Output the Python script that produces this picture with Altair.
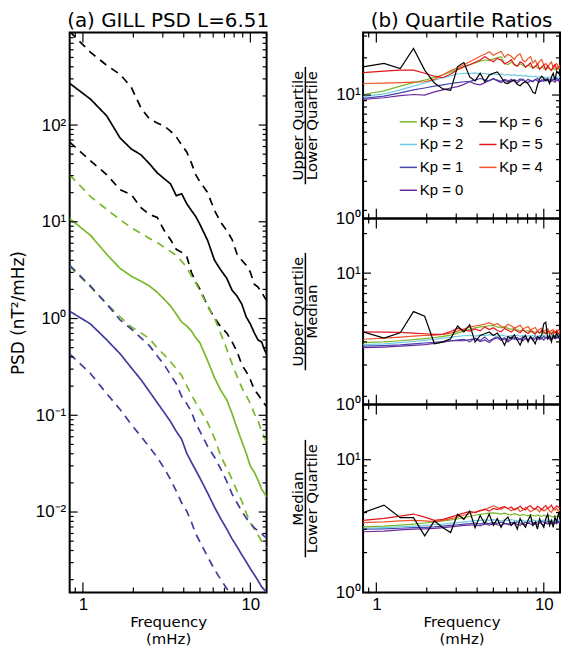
import altair as alt
import pandas as pd

# ---------------- data ----------------
PSD_FREQ = [0.833, 1.111, 1.389, 1.667, 1.944, 2.222, 2.500, 2.778, 3.056, 3.333,
            3.611, 3.889, 4.167, 4.444, 4.722, 5.000, 5.556, 6.111, 6.667, 7.222,
            7.778, 8.333, 8.889, 9.444, 10.000, 10.556, 11.111, 11.667, 12.222, 12.500]

KP6_UPPER = [927, 564, 414, 334, 246, 150, 115, 105, 97.7, 86.7, 75.3, 62.2, 52.7, 40.6, 30.6,
             25.9, 20.0, 13.1, 9.82, 8.13, 6.56, 4.60, 4.00, 3.55, 3.01, 2.26, 2.11, 1.87, 1.63, 1.55]
KP6_MEDIAN = [270, 185, 124, 73.5, 56.6, 49.2, 39.7, 32.1, 27.9, 24.7, 18.6, 19.5, 15.4, 13.1, 11.3,
              9.38, 6.41, 4.00, 3.16, 2.61, 1.96, 1.70, 1.41, 1.04, 0.877, 0.710, 0.601, 0.573, 0.463, 0.432]
KP6_LOWER = [66.8, 42.7, 30.6, 21.5, 19.1, 14.0, 11.9, 11.1, 8.13, 6.56, 5.19, 4.83, 4.40, 3.01, 2.37,
             2.01, 1.35, 1.01, 0.818, 0.710, 0.573, 0.453, 0.333, 0.282, 0.233, 0.184, 0.164, 0.145, 0.129, 0.123]
KP3_UPPER = [30.6, 18.2, 13.4, 10.5, 8.73, 7.57, 6.73, 6.12, 5.43, 4.94, 4.50, 3.90, 3.39, 2.74, 2.32,
             1.92, 1.35, 1.01, 0.693, 0.485, 0.340, 0.251, 0.193, 0.160, 0.132, 0.104, 0.0883, 0.0681, 0.0577, 0.0525]
KP3_MEDIAN = [10.8, 7.23, 4.60, 3.30, 2.74, 2.43, 2.16, 1.87, 1.58, 1.35, 1.11, 0.920, 0.838, 0.743, 0.631,
              0.560, 0.366, 0.244, 0.180, 0.145, 0.104, 0.0731, 0.0537, 0.0405, 0.0297, 0.0258, 0.0213, 0.0173, 0.0153, 0.0143]
KP3_LOWER = [3.47, 2.11, 1.41, 1.04, 0.818, 0.710, 0.617, 0.498, 0.422, 0.357, 0.303, 0.256, 0.202, 0.163, 0.135,
             0.115, 0.0841, 0.0577, 0.0377, 0.0283, 0.0218, 0.0164, 0.0130, 0.00977, 0.00771, 0.00668, 0.00579, 0.00501, 0.00447, 0.00427]
KP1_UPPER = [3.55, 2.16, 1.41, 0.966, 0.780, 0.631, 0.521, 0.411, 0.333, 0.262, 0.212, 0.156, 0.132, 0.109, 0.0822,
             0.0681, 0.0478, 0.0368, 0.0277, 0.0208, 0.0153, 0.0124, 0.0102, 0.00867, 0.00771, 0.00684, 0.00638, 0.00594, 0.00553, 0.00541]
KP1_MEDIAN = [1.19, 0.877, 0.601, 0.432, 0.310, 0.233, 0.175, 0.135, 0.107, 0.0863, 0.0681, 0.0564, 0.0405, 0.0327, 0.0270,
              0.0224, 0.0157, 0.0112, 0.00847, 0.00668, 0.00528, 0.00437, 0.00361, 0.00306, 0.00259, 0.00225, 0.00195, 0.00169, 0.00154, 0.00147]
KP1_LOWER = [0.432, 0.269, 0.167, 0.115, 0.0804, 0.0605, 0.0466, 0.0368, 0.0283, 0.0218, 0.0164, 0.0124, 0.0102, 0.00789, 0.00594,
             0.00492, 0.00344, 0.00254, 0.00200, 0.00162, 0.00132, 0.00110, 0.00089, 0.00076, 0.00065, 0.00055, 0.00048, 0.00042, 0.00037, 0.00035]

RATIO_FREQ = [0.833, 1.111, 1.389, 1.667, 1.944, 2.222, 2.500, 2.778, 3.056, 3.333,
              3.611, 3.889, 4.167, 4.444, 4.722, 5.000, 5.278, 5.556, 5.833, 6.111,
              6.389, 6.667, 6.944, 7.222, 7.500, 7.778, 8.056, 8.333, 8.611, 8.889,
              9.167, 9.444, 9.722, 10.000, 10.278, 10.556, 10.833, 11.111, 11.389, 11.667,
              11.944, 12.222, 12.500]

# Upper quartile / lower quartile
UQ_LQ = {
    "Kp = 0": [9.2, 9.5, 9.9, 10.1, 10.0, 10.6, 11.0, 11.4, 11.7, 12.2, 12.8, 12.3, 12.1, 12.6, 13.1, 13.6, 13.0, 12.6, 13.2, 12.8,
               13.4, 12.9, 12.5, 13.1, 13.5, 12.8, 12.6, 13.2, 12.9, 13.4, 13.0, 12.7, 13.3, 12.9, 13.5, 13.1, 12.8, 13.4, 13.0, 12.7,
               13.3, 13.0, 13.2],
    "Kp = 1": [9.4, 9.8, 10.4, 11.0, 11.4, 11.8, 12.1, 12.4, 12.6, 12.8, 12.9, 13.2, 13.6, 13.3, 13.0, 13.5, 13.2, 12.9, 13.4, 13.1,
               12.8, 13.3, 13.0, 13.5, 13.1, 12.9, 13.4, 13.0, 12.8, 13.3, 13.6, 13.1, 12.9, 13.4, 13.1, 13.6, 13.2, 12.9, 13.5, 13.2,
               13.7, 13.3, 13.5],
    "Kp = 2": [9.7, 10.2, 11.0, 11.8, 12.5, 13.2, 13.8, 14.3, 14.8, 15.0, 14.9, 15.1, 14.8, 15.0, 14.7, 14.9, 14.6, 14.8, 14.5, 14.7,
               14.4, 14.6, 14.3, 14.5, 14.2, 14.4, 14.1, 14.3, 14.0, 14.2, 13.9, 14.1, 13.8, 14.0, 13.7, 14.0, 13.8, 13.6, 13.9, 13.7,
               14.0, 13.8, 14.1],
    "Kp = 3": [10.1, 10.8, 11.8, 12.6, 13.2, 13.9, 14.6, 15.4, 16.2, 17.0, 17.6, 18.2, 18.8, 19.2, 19.0, 19.6, 20.0, 20.4, 18.0, 17.6,
               18.4, 17.8, 17.2, 17.9, 17.4, 16.8, 17.5, 17.0, 16.5, 17.2, 16.6, 16.2, 16.9, 16.4, 16.0, 16.7, 16.2, 15.8, 16.5, 16.0,
               16.6, 16.2, 16.8],
    "Kp = 4": [12.4, 12.5, 12.6, 12.7, 12.8, 13.4, 14.6, 15.8, 16.6, 17.6, 18.6, 19.6, 20.6, 21.4, 22.4, 21.0, 21.8, 22.6, 20.2, 21.4,
               20.6, 19.4, 20.9, 21.5, 19.0, 18.6, 19.8, 20.4, 18.2, 19.1, 17.6, 18.8, 19.4, 17.4, 18.0, 16.9, 17.8, 18.5, 16.6, 17.4,
               18.0, 16.8, 17.5],
    "Kp = 5": [15.2, 15.6, 15.9, 15.9, 15.0, 14.2, 13.8, 14.8, 16.0, 16.9, 17.6, 18.4, 19.2, 20.4, 19.4, 18.6, 19.8, 19.2, 17.9, 18.4,
               19.3, 17.6, 17.1, 18.6, 18.0, 16.8, 17.4, 18.2, 16.5, 17.0, 17.8, 16.2, 16.9, 17.5, 16.0, 17.2, 16.4, 15.8, 17.0, 17.6,
               16.1, 16.8, 17.2],
    "Kp = 6": [16.9, 18.0, 16.4, 23.8, 15.9, 12.5, 11.2, 10.9, 17.0, 18.3, 14.0, 13.0, 15.0, 12.8, 14.5, 15.0, 15.4, 14.0, 12.6, 12.4,
               13.0, 13.2, 12.2, 11.9, 12.5, 12.8, 12.3, 11.5, 10.5, 10.3, 12.0, 13.5, 14.2, 13.6, 13.0, 13.4, 12.4, 14.0, 15.0, 13.2,
               15.6, 15.0, 16.0],
}

# Upper quartile / median
UQ_MED = {
    "Kp = 0": [2.71, 2.74, 2.78, 2.82, 2.86, 2.92, 2.98, 3.05, 3.08, 3.06, 3.12, 3.18, 3.02, 3.1, 2.96, 3.14, 3.22, 3.08, 3.16, 3.0,
               3.12, 3.24, 3.1, 3.18, 3.05, 3.2, 3.12, 3.26, 3.08, 3.18, 3.3, 3.12, 3.22, 3.1, 3.26, 3.16, 3.3, 3.14, 3.24, 3.18,
               3.3, 3.2, 3.26],
    "Kp = 1": [2.78, 2.81, 2.85, 2.9, 2.94, 2.98, 3.02, 3.06, 3.1, 3.14, 3.0, 3.2, 3.08, 3.26, 3.04, 3.18, 3.3, 3.12, 3.22, 3.06,
               3.28, 3.14, 3.24, 3.1, 3.3, 3.16, 3.06, 3.26, 3.18, 3.34, 3.12, 3.24, 3.16, 3.32, 3.2, 3.28, 3.14, 3.3, 3.22, 3.36,
               3.2, 3.3, 3.26],
    "Kp = 2": [2.86, 2.9, 2.96, 3.02, 3.08, 3.14, 3.2, 3.26, 3.3, 3.34, 3.36, 3.32, 3.38, 3.34, 3.4, 3.36, 3.3, 3.38, 3.34, 3.28,
               3.36, 3.32, 3.38, 3.3, 3.36, 3.28, 3.34, 3.3, 3.36, 3.32, 3.26, 3.34, 3.3, 3.38, 3.32, 3.28, 3.36, 3.3, 3.34, 3.28,
               3.36, 3.32, 3.34],
    "Kp = 3": [2.96, 3.0, 3.06, 3.12, 3.18, 3.24, 3.3, 3.38, 3.5, 3.62, 3.74, 3.84, 3.9, 3.94, 3.98, 4.0, 3.9, 3.84, 3.92, 3.8,
               3.74, 3.82, 3.7, 3.64, 3.72, 3.6, 3.66, 3.56, 3.62, 3.54, 3.6, 3.5, 3.58, 3.48, 3.56, 3.5, 3.44, 3.54, 3.48, 3.56,
               3.5, 3.46, 3.52],
    "Kp = 4": [3.14, 3.2, 3.26, 3.32, 3.36, 3.38, 3.42, 3.5, 3.62, 3.76, 3.88, 3.96, 4.02, 4.1, 4.2, 4.05, 4.12, 3.94, 3.86, 4.08,
               3.98, 3.82, 3.9, 4.02, 3.76, 3.84, 3.92, 3.7, 3.78, 3.86, 3.64, 3.74, 3.82, 3.6, 3.68, 3.78, 3.58, 3.66, 3.72, 3.56,
               3.64, 3.7, 3.6],
    "Kp = 5": [3.57, 3.56, 3.54, 3.5, 3.46, 3.42, 3.44, 3.6, 3.8, 3.7, 3.62, 3.76, 3.64, 3.9, 3.72, 3.84, 3.66, 3.58, 3.8, 3.68,
               3.56, 3.74, 3.62, 3.52, 3.7, 3.58, 3.48, 3.66, 3.54, 3.44, 3.62, 3.5, 3.7, 3.56, 3.46, 3.64, 3.52, 3.42, 3.6, 3.5,
               3.66, 3.46, 3.58],
    "Kp = 6": [3.57, 3.21, 3.52, 5.1, 4.7, 2.9, 3.0, 3.17, 3.96, 3.57, 4.05, 2.99, 3.36, 3.46, 3.57, 3.36, 3.5, 3.2, 2.83, 3.3,
               3.17, 3.4, 3.1, 2.83, 3.2, 3.36, 3.0, 3.3, 3.1, 2.9, 3.3, 3.2, 3.4, 4.12, 4.24, 3.17, 3.36, 3.0, 3.4, 3.2,
               3.5, 3.26, 3.36],
}

# Median / lower quartile
MED_LQ = {
    "Kp = 0": [2.87, 2.9, 2.96, 3.0, 3.02, 3.04, 3.08, 3.12, 3.16, 3.2, 3.22, 3.24, 3.18, 3.28, 3.22, 3.3, 3.24, 3.2, 3.3, 3.26,
               3.22, 3.32, 3.26, 3.2, 3.3, 3.24, 3.34, 3.28, 3.22, 3.32, 3.26, 3.36, 3.28, 3.24, 3.34, 3.28, 3.38, 3.3, 3.26, 3.36,
               3.3, 3.4, 3.34],
    "Kp = 1": [3.0, 3.02, 3.05, 3.08, 3.1, 3.12, 3.16, 3.2, 3.24, 3.28, 3.3, 3.34, 3.28, 3.36, 3.3, 3.38, 3.32, 3.4, 3.34, 3.28,
               3.38, 3.32, 3.42, 3.34, 3.3, 3.4, 3.34, 3.44, 3.36, 3.3, 3.42, 3.36, 3.46, 3.38, 3.32, 3.44, 3.38, 3.48, 3.4, 3.34,
               3.46, 3.4, 3.44],
    "Kp = 2": [3.05, 3.08, 3.12, 3.16, 3.2, 3.24, 3.28, 3.32, 3.36, 3.4, 3.44, 3.48, 3.5, 3.52, 3.5, 3.54, 3.5, 3.46, 3.52, 3.48,
               3.54, 3.5, 3.46, 3.52, 3.48, 3.44, 3.5, 3.46, 3.52, 3.48, 3.44, 3.5, 3.46, 3.52, 3.48, 3.54, 3.5, 3.46, 3.52, 3.48,
               3.54, 3.5, 3.52],
    "Kp = 3": [3.12, 3.16, 3.22, 3.28, 3.34, 3.4, 3.46, 3.52, 3.58, 3.66, 3.74, 3.82, 3.88, 3.92, 3.96, 3.98, 3.94, 3.9, 3.96, 3.88,
               3.84, 3.92, 3.86, 3.8, 3.88, 3.82, 3.78, 3.86, 3.8, 3.76, 3.84, 3.78, 3.74, 3.82, 3.76, 3.72, 3.8, 3.74, 3.7, 3.78,
               3.72, 3.8, 3.76],
    "Kp = 4": [3.36, 3.4, 3.46, 3.5, 3.46, 3.42, 3.5, 3.6, 3.7, 3.82, 3.94, 4.04, 4.12, 4.2, 4.36, 4.5, 4.38, 4.22, 4.4, 4.3,
               4.12, 4.26, 4.34, 4.08, 4.18, 4.38, 4.24, 4.06, 4.16, 4.3, 4.22, 4.04, 4.28, 4.12, 4.2, 4.34, 4.1, 4.02, 4.24, 4.16,
               4.3, 4.08, 4.18],
    "Kp = 5": [3.5, 3.62, 3.76, 3.9, 3.7, 3.5, 3.56, 3.7, 3.84, 3.96, 4.08, 4.0, 4.14, 4.24, 4.1, 4.3, 4.22, 4.36, 4.44, 4.28,
               4.4, 4.18, 4.32, 4.46, 4.26, 4.2, 4.42, 4.5, 4.3, 4.24, 4.46, 4.36, 4.18, 4.4, 4.52, 4.3, 4.38, 4.56, 4.26, 4.34,
               4.48, 4.4, 4.36],
    "Kp = 6": [3.99, 4.55, 3.66, 3.66, 2.67, 3.46, 3.08, 2.83, 3.88, 3.56, 4.11, 3.08, 3.8, 3.3, 3.9, 3.2, 3.6, 3.1, 3.5, 3.7,
               3.2, 3.4, 3.0, 3.6, 3.3, 3.1, 3.5, 3.8, 3.2, 3.4, 3.0, 3.6, 3.3, 3.1, 3.6, 3.9, 3.2, 3.5, 3.1, 3.7,
               3.4, 3.9, 3.6],
}

KP_ORDER = ["Kp = 0", "Kp = 1", "Kp = 2", "Kp = 3", "Kp = 4", "Kp = 5", "Kp = 6"]
LEGEND_ORDER = ["Kp = 3", "Kp = 2", "Kp = 1", "Kp = 0", "Kp = 6", "Kp = 5", "Kp = 4"]
KP_COLORS = {"Kp = 0": "#6c2a9c", "Kp = 1": "#4842ac", "Kp = 2": "#6fcbe4", "Kp = 3": "#7ab829",
             "Kp = 4": "#f0562a", "Kp = 5": "#e3161d", "Kp = 6": "#000000"}

X_MAJOR = [1, 10]
X_MINOR = [0.9, 2, 3, 4, 5, 6, 7, 8, 9]
PSD_Y_MAJOR = [0.01, 0.1, 1, 10, 100]
PSD_Y_MINOR = [m * d for d in (0.001, 0.01, 0.1, 1, 10, 100) for m in range(2, 10)]
R_Y_MAJOR = [1, 10]
R_Y_MINOR = [2, 3, 4, 5, 6, 7, 8, 9, 20, 30]

TITLE_A = "(a) GILL PSD L=6.51"
TITLE_B = "(b) Quartile Ratios"

# ---------------- layout ----------------
W = 198
H_LEFT = 563
H_TOP, H_MID, H_BOT = 187, 187, 189
LABEL_FONT = "Liberation Sans"
TITLE_FONT = "DejaVu Sans"


def tick_layers(xscale, yscale, xaxis, yaxis, w, h, ymajor, yminor):
    out = []
    for vals, ln in ((X_MAJOR, 10), (X_MINOR, 5)):
        d = pd.DataFrame({"v": vals})
        ex = alt.X("v:Q", scale=xscale, axis=xaxis)
        out.append(alt.Chart(d).mark_rule(color="black", strokeWidth=1.2)
                   .encode(x=ex, y=alt.value(h), y2=alt.value(h - ln)))
        out.append(alt.Chart(d).mark_rule(color="black", strokeWidth=1.2)
                   .encode(x=ex, y=alt.value(0), y2=alt.value(ln)))
    for vals, ln in ((ymajor, 8), (yminor, 4)):
        d = pd.DataFrame({"v": vals})
        ey = alt.Y("v:Q", scale=yscale, axis=yaxis)
        out.append(alt.Chart(d).mark_rule(color="black", strokeWidth=1.2)
                   .encode(y=ey, x=alt.value(0), x2=alt.value(ln)))
        out.append(alt.Chart(d).mark_rule(color="black", strokeWidth=1.2)
                   .encode(y=ey, x=alt.value(w), x2=alt.value(w - ln)))
    return out


def freq_axis(show):
    if show:
        return alt.Axis(values=X_MAJOR, format="~g", title=["Frequency", "(mHz)"],
                        labelPadding=4, titlePadding=2, titleFontSize=15, titleLineHeight=17)
    return alt.Axis(values=X_MAJOR, labels=False, title=None)


def panel_title(text):
    return alt.Chart(pd.DataFrame({"t": [text]})).mark_text(
        font=TITLE_FONT, fontSize=20, align="center", baseline="middle", color="black"
    ).encode(text="t:N", x=alt.value(W / 2), y=alt.value(-12))


# ---------------- left panel ----------------
psd_series = [("Kp6", "upper", KP6_UPPER), ("Kp6", "median", KP6_MEDIAN), ("Kp6", "lower", KP6_LOWER),
              ("Kp3", "upper", KP3_UPPER), ("Kp3", "median", KP3_MEDIAN), ("Kp3", "lower", KP3_LOWER),
              ("Kp1", "upper", KP1_UPPER), ("Kp1", "median", KP1_MEDIAN), ("Kp1", "lower", KP1_LOWER)]
rows = []
for kp, stat, vals in psd_series:
    for f, v in zip(PSD_FREQ, vals):
        rows.append({"f": f, "psd": v, "kp": kp, "stat": stat})
df_psd = pd.DataFrame(rows)

xs_l = alt.Scale(type="log", domain=[0.8333, 12.5], nice=False)
ys_l = alt.Scale(type="log", domain=[0.00147, 903], nice=False)
xaxis_l = freq_axis(True)
yaxis_l = alt.Axis(values=PSD_Y_MAJOR, title="PSD (nT²/mHz)", titleFontSize=17,
                   labelPadding=4, titlePadding=8,
                   labelExpr="datum.value < 0.05 ? '10⁻²' : datum.value < 0.5 ? '10⁻¹' : "
                             "datum.value < 5 ? '10⁰' : datum.value < 50 ? '10¹' : '10²'")

psd_lines = alt.Chart(df_psd).mark_line(clip=True, strokeWidth=1.7).encode(
    x=alt.X("f:Q", scale=xs_l, axis=xaxis_l),
    y=alt.Y("psd:Q", scale=ys_l, axis=yaxis_l),
    color=alt.Color("kp:N", scale=alt.Scale(domain=["Kp6", "Kp3", "Kp1"],
                                            range=["#000000", "#7ab829", "#3f3d9c"]), legend=None),
    strokeDash=alt.StrokeDash("stat:N", scale=alt.Scale(domain=["upper", "median", "lower"],
                                                        range=[[8, 6], [1, 0], [8, 6]]), legend=None),
)

left = alt.layer(psd_lines, *tick_layers(xs_l, ys_l, xaxis_l, yaxis_l, W, H_LEFT,
                                         PSD_Y_MAJOR, PSD_Y_MINOR),
                 panel_title(TITLE_A)).properties(width=W, height=H_LEFT)


# ---------------- right panels ----------------
def ratio_panel(series, ymax, h, line1, line2, underline_len, show_x=False, legend=False, title=None):
    rr = []
    for kp in KP_ORDER:
        for f, v in zip(RATIO_FREQ, series[kp]):
            rr.append({"f": f, "r": v, "kp": kp})
    d = pd.DataFrame(rr)
    xs = alt.Scale(type="log", domain=[0.8333, 12.5], nice=False)
    ys = alt.Scale(type="log", domain=[1, ymax], nice=False)
    xaxis = freq_axis(show_x)
    yaxis = alt.Axis(values=R_Y_MAJOR, title=None, labelPadding=3,
                     labelExpr="datum.value < 5 ? '10⁰' : '10¹'")
    if legend:
        leg = alt.Legend(orient="none", legendX=36, legendY=80, columns=2, direction="vertical",
                         symbolType="stroke", symbolStrokeWidth=1.5, symbolSize=300,
                         labelFont=LABEL_FONT, labelFontSize=15, labelOffset=2, rowPadding=5,
                         columnPadding=12, title=None, padding=0, labelColor="black")
    else:
        leg = None
    lines = alt.Chart(d).mark_line(clip=True, strokeWidth=1.2).encode(
        x=alt.X("f:Q", scale=xs, axis=xaxis),
        y=alt.Y("r:Q", scale=ys, axis=yaxis),
        color=alt.Color("kp:N", scale=alt.Scale(domain=LEGEND_ORDER,
                                                range=[KP_COLORS[k] for k in LEGEND_ORDER]), legend=leg),
    )
    c = h / 2
    t1 = alt.Chart(pd.DataFrame({"t": [line1]})).mark_text(
        angle=270, font=TITLE_FONT, fontSize=15, align="center", baseline="middle", color="black"
    ).encode(text="t:N", x=alt.value(-65), y=alt.value(c))
    t2 = alt.Chart(pd.DataFrame({"t": [line2]})).mark_text(
        angle=270, font=TITLE_FONT, fontSize=15, align="center", baseline="middle", color="black"
    ).encode(text="t:N", x=alt.value(-51), y=alt.value(c))
    bar = alt.Chart(pd.DataFrame({"a": [0]})).mark_rule(color="black", strokeWidth=1.5).encode(
        x=alt.value(-58), y=alt.value(c - underline_len / 2), y2=alt.value(c + underline_len / 2))
    layers = [lines, *tick_layers(xs, ys, xaxis, yaxis, W, h, R_Y_MAJOR, R_Y_MINOR), t1, t2, bar]
    if title:
        layers.append(panel_title(title))
    return alt.layer(*layers).properties(width=W, height=h)


top = ratio_panel(UQ_LQ, 32, H_TOP, "Upper Quartile", "Lower Quartile", 118, legend=True, title=TITLE_B)
mid = ratio_panel(UQ_MED, 26, H_MID, "Upper Quartile", "Median", 118)
bot = ratio_panel(MED_LQ, 26, H_BOT, "Median", "Lower Quartile", 118, show_x=True)

right = alt.vconcat(top, mid, bot, spacing=0, bounds="flush").resolve_scale(color="independent")

chart = alt.hconcat(left, right, spacing=97, bounds="flush").resolve_scale(
    color="independent", strokeDash="independent"
).properties(padding=0).configure_view(
    stroke="black", strokeWidth=2
).configure_axis(
    domain=False, ticks=False, tickSize=0, grid=False,
    labelFont=LABEL_FONT, labelFontSize=17, labelColor="black",
    titleFont=TITLE_FONT, titleFontSize=16, titleFontWeight="normal", titleColor="black"
)

chart.save("out.html", embed_options={"renderer": "svg", "actions": False})
